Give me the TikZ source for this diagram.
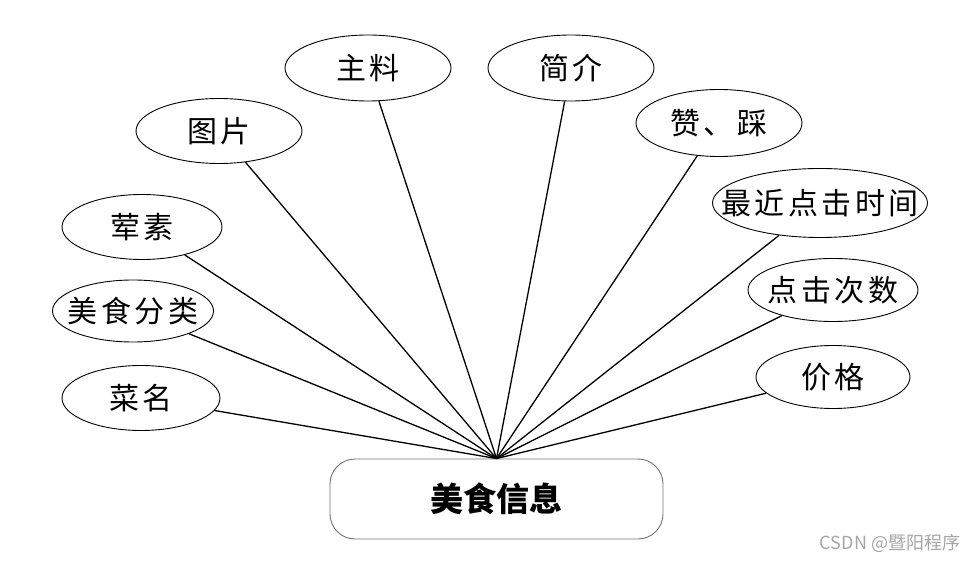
\documentclass[tikz,border=0pt]{standalone}
\usepackage{fontspec}
\usepackage{tikz}
\usetikzlibrary{shapes.geometric}
\newfontfamily\cjk[LetterSpace=12]{Noto Sans CJK SC}
\newfontfamily\cjkmain{Noto Sans CJK SC}
\newcommand{\attrtext}[1]{\makebox[0pt]{#1}}

\begin{document}
\begin{tikzpicture}[
  x=1pt,
  y=-1pt,
  attr/.style={
    draw=black,
    line width=.9pt,
    ellipse,
    inner sep=0pt,
    minimum width=166pt,
    minimum height=65pt,
    font=\cjk\fontsize{30}{34}\selectfont
  },
  entity/.style={
    draw=black!55,
    line width=.9pt,
    rounded corners=25pt,
    minimum width=333pt,
    minimum height=80pt,
    font=\cjkmain\bfseries\fontsize{33}{38}\selectfont
  },
  link/.style={
    line width=1.3pt,
    black
  },
  wmark/.style={
    text=black!35,
    font=\cjkmain\fontsize{18}{20}\selectfont
  }
]
\useasboundingbox (0,0) rectangle (967,561);

% entity
\node[entity] (info) at (496.5,499) {美食信息};
\coordinate (hub) at (info.north);

% attributes, left side
\node[attr,minimum width=158pt] (name) at (141,398) {\attrtext{菜名}};
\node[attr,minimum width=161pt,minimum height=62pt] (cat) at (133,311) {\attrtext{美食分类}};
\node[attr,minimum width=160pt] (veg) at (142,227) {\attrtext{荤素}};
\node[attr] (pic) at (219,131) {\attrtext{图片}};
\node[attr,minimum height=66pt] (main) at (368,68) {\attrtext{主料}};

% attributes, right side
\node[attr,minimum height=66pt] (intro) at (571,68) {\attrtext{简介}};
\node[attr,minimum height=67pt] (vote) at (719,123) {\attrtext{赞、踩}};
\node[attr,minimum width=215pt,minimum height=69pt] (last) at (820,203) {\attrtext{最近点击时间}};
\node[attr,minimum width=170pt,minimum height=63pt] (clicks) at (833,290) {\attrtext{点击次数}};
\node[attr,minimum width=154pt,minimum height=63pt] (price) at (833,377) {\attrtext{价格}};

% links to the entity
\foreach \a in {name,cat,veg,pic,main,intro,vote,last,clicks,price}
  \draw[link] (hub) -- (\a);

\node[wmark] (mark1) at (890,543) {CSDN @暨阳程序};
\end{tikzpicture}
\end{document}
